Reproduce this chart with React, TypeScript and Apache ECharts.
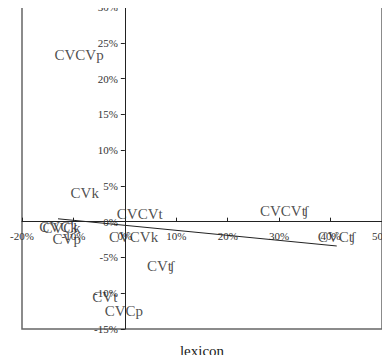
import React, { useEffect, useRef } from "react";
import * as echarts from "echarts";

const labels = ["CVCVp", "CVk", "CVCVt", "CVCk", "CVCk", "CVp", "CVCVk", "CVʧ", "CVt", "CVCp", "CVCVʧ", "CVCʧ"];
const xValues = [-8.9, -7.8, 2.9, -12.3, -12.9, -11.3, 1.7, 7.0, -3.9, -0.2, 31.0, 41.2];
const yValues = [23.3, 4.0, 1.1, -0.9, -0.8, -2.4, -2.1, -6.2, -10.5, -12.5, 1.5, -2.2];
const trendX = [-13.0, 41.2];
const trendY = [0.4, -3.4];
const xTitle = "lexicon";
const xRange = [-20, 50];
const yRange = [-15, 30];

const serif = "Liberation Serif, Times New Roman, serif";

const W = 390;
const H = 363;
const G = { left: 22, right: 8, top: 7, bottom: 34 };

export default function App() {
  const ref = useRef<HTMLDivElement>(null);
  useEffect(() => {
    if (!ref.current) return;
    const chart = echarts.init(ref.current, null, { renderer: "svg" });
    const gw = W - G.left - G.right;
    const gh = H - G.top - G.bottom;
    const yOff = (-xRange[0] / (xRange[1] - xRange[0])) * gw;
    const xOff = (-yRange[0] / (yRange[1] - yRange[0])) * gh;
    chart.setOption({
      animation: false,
      textStyle: { fontFamily: serif },
      grid: {
        ...G,
        show: true,
        borderColor: "#666",
        borderWidth: 1.5,
        containLabel: false,
        outerBoundsMode: "none",
      },
      xAxis: {
        type: "value",
        min: xRange[0],
        max: xRange[1],
        interval: 10,
        offset: -xOff,
        splitLine: { show: false },
        axisLine: { onZero: false, lineStyle: { color: "#222", width: 1 } },
        axisTick: { show: true, inside: true, length: 4, lineStyle: { color: "#222" } },
        axisLabel: {
          fontFamily: serif,
          fontSize: 11,
          color: "#333",
          margin: 9,
          formatter: (v: number) => `${v}%`,
        },
      },
      yAxis: {
        type: "value",
        min: yRange[0],
        max: yRange[1],
        interval: 5,
        offset: -yOff,
        splitLine: { show: false },
        axisLine: { onZero: false, lineStyle: { color: "#222", width: 1 } },
        axisTick: { show: true, inside: false, length: 4, lineStyle: { color: "#222" } },
        axisLabel: {
          fontFamily: serif,
          fontSize: 11,
          color: "#333",
          margin: 7,
          formatter: (v: number) => `${v}%`,
        },
      },
      graphic: [
        {
          type: "text",
          x: G.left + gw / 2,
          y: 343,
          style: { text: xTitle, font: `15px ${serif}`, fill: "#222", align: "center" },
        },
      ],
      series: [
        {
          type: "line",
          data: trendX.map((x, i) => [x, trendY[i]]),
          symbol: "none",
          lineStyle: { color: "#222", width: 1 },
          silent: true,
          z: 1,
        },
        {
          type: "scatter",
          symbolSize: 0,
          data: labels.map((n, i) => ({ name: n, value: [xValues[i], yValues[i]] })),
          label: {
            show: true,
            position: "inside",
            formatter: (p: any) => p.name,
            fontFamily: serif,
            fontSize: 15,
            color: "#222",
          },
          labelLayout: { hideOverlap: false },
          z: 3,
        },
      ],
    });
    return () => chart.dispose();
  }, []);
  return <div ref={ref} style={{ width: W, height: H, margin: -8 }} />;
}
